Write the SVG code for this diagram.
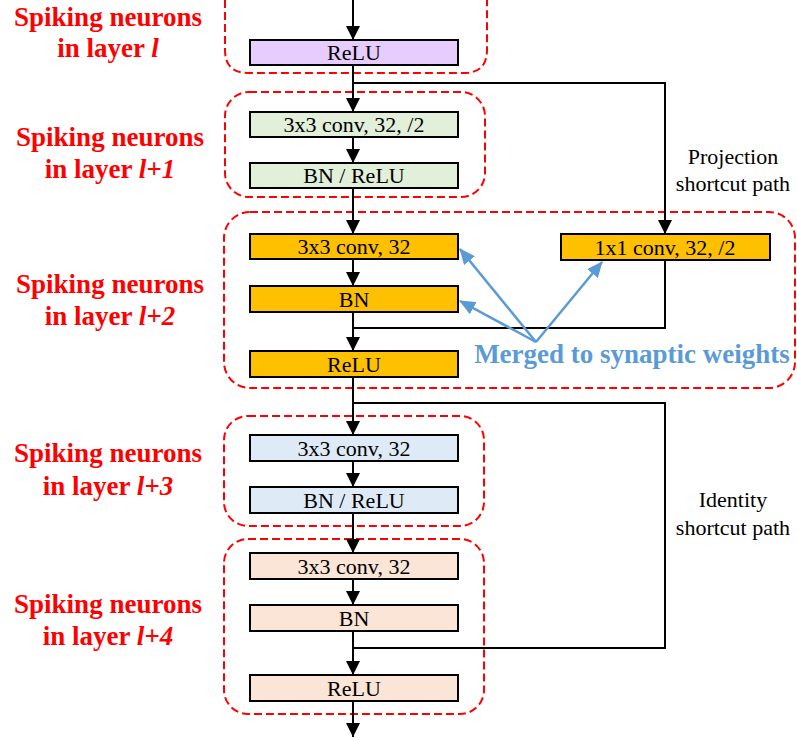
<svg xmlns="http://www.w3.org/2000/svg" width="797" height="738" viewBox="0 0 797 738">
<defs>
<marker id="ah" markerUnits="userSpaceOnUse" markerWidth="14" markerHeight="14" refX="14" refY="7" orient="auto">
<path d="M0,0 L14,7 L0,14 z" fill="#000"/>
</marker>
<marker id="bh" markerUnits="userSpaceOnUse" markerWidth="16" markerHeight="14" refX="15" refY="7" orient="auto">
<path d="M0,0 L16,7 L0,14 z" fill="#5B9BD5"/>
</marker>
<style>
text{font-family:'Liberation Serif','Times New Roman',Tinos,'DejaVu Serif',serif}
.box{stroke:#000;stroke-width:2}
.bt{font-size:22px;fill:#000;text-anchor:middle}
.lab{font-size:27px;font-weight:bold;fill:#FF0000;text-anchor:middle}
.side{font-size:22px;fill:#000;text-anchor:middle}
.mg{font-size:27px;font-weight:bold;fill:#5B9BD5;text-anchor:middle}
.reg{fill:none;stroke:#FF0000;stroke-width:2;stroke-dasharray:8,4}
.ln{fill:none;stroke:#000;stroke-width:2}
.ar{fill:none;stroke:#000;stroke-width:2;marker-end:url(#ah)}
.bl{fill:none;stroke:#5B9BD5;stroke-width:2.5;marker-end:url(#bh)}
</style>
</defs>
<g id="regions">
<path class="reg" d="M225,0 L225,50 Q225,73 248,73 L464,73 Q487,73 487,50 L487,0"/>
<rect class="reg" x="225" y="92" width="260" height="105" rx="24"/>
<rect class="reg" x="224" y="212" width="571" height="176" rx="26"/>
<rect class="reg" x="224" y="416" width="260" height="110" rx="24"/>
<rect class="reg" x="224" y="539" width="260" height="175" rx="24"/>
</g>
<g id="labels">
<text class="lab" x="108" y="26">Spiking neurons</text>
<text class="lab" x="108" y="57">in layer <tspan font-style="italic">l</tspan></text>
<text class="lab" x="110" y="146">Spiking neurons</text>
<text class="lab" x="110" y="178">in layer <tspan font-style="italic">l+1</tspan></text>
<text class="lab" x="110" y="293">Spiking neurons</text>
<text class="lab" x="110" y="325">in layer <tspan font-style="italic">l+2</tspan></text>
<text class="lab" x="108" y="462">Spiking neurons</text>
<text class="lab" x="108" y="495">in layer <tspan font-style="italic">l+3</tspan></text>
<text class="lab" x="108" y="613">Spiking neurons</text>
<text class="lab" x="108" y="645">in layer <tspan font-style="italic">l+4</tspan></text>
<text class="side" x="733" y="164">Projection</text>
<text class="side" x="733" y="191">shortcut path</text>
<text class="side" x="733" y="507">Identity</text>
<text class="side" x="733" y="535">shortcut path</text>
<text class="mg" x="632" y="363">Merged to synaptic weights</text>
</g>
<g id="connectors">
<line class="ar" x1="353" y1="0" x2="353" y2="40"/>
<line class="ar" x1="353" y1="65" x2="353" y2="112"/>
<polyline class="ar" points="353,83 665,83 665,234"/>
<line class="ar" x1="353" y1="137" x2="353" y2="163"/>
<line class="ar" x1="353" y1="188" x2="353" y2="234"/>
<line class="ar" x1="353" y1="259" x2="353" y2="286"/>
<line class="ar" x1="353" y1="312" x2="353" y2="351"/>
<polyline class="ln" points="665,260 665,328 353,328"/>
<line class="ar" x1="353" y1="377" x2="353" y2="435"/>
<polyline class="ln" points="353,403 665,403 665,648 353,648"/>
<line class="ar" x1="353" y1="461" x2="353" y2="487"/>
<line class="ar" x1="353" y1="513" x2="353" y2="553"/>
<line class="ar" x1="353" y1="579" x2="353" y2="605"/>
<line class="ar" x1="353" y1="631" x2="353" y2="675"/>
<line class="ar" x1="353" y1="701" x2="353" y2="737"/>
<line class="bl" x1="536" y1="342" x2="460" y2="249"/>
<line class="bl" x1="536" y1="342" x2="460" y2="301"/>
<line class="bl" x1="536" y1="342" x2="602" y2="262"/>
</g>
<g id="n_relu_l"><rect class="box" x="250" y="40" width="208" height="25" fill="#E6CCFF"/><text class="bt" x="354" y="60">ReLU</text></g>
<g id="n_conv_l1"><rect class="box" x="250" y="112" width="208" height="25" fill="#E2EFD9"/><text class="bt" x="354" y="132">3x3 conv, 32, /2</text></g>
<g id="n_bnrelu_l1"><rect class="box" x="250" y="163" width="208" height="25" fill="#E2EFD9"/><text class="bt" x="354" y="183">BN / ReLU</text></g>
<g id="n_conv_l2"><rect class="box" x="250" y="234" width="208" height="25" fill="#FFC000"/><text class="bt" x="354" y="254">3x3 conv, 32</text></g>
<g id="n_bn_l2"><rect class="box" x="250" y="286" width="208" height="26" fill="#FFC000"/><text class="bt" x="354" y="307">BN</text></g>
<g id="n_relu_l2"><rect class="box" x="250" y="351" width="208" height="26" fill="#FFC000"/><text class="bt" x="354" y="372">ReLU</text></g>
<g id="n_conv1x1"><rect class="box" x="561" y="234" width="209" height="26" fill="#FFC000"/><text class="bt" x="665" y="255">1x1 conv, 32, /2</text></g>
<g id="n_conv_l3"><rect class="box" x="250" y="435" width="208" height="26" fill="#DEEBF7"/><text class="bt" x="354" y="456">3x3 conv, 32</text></g>
<g id="n_bnrelu_l3"><rect class="box" x="250" y="487" width="208" height="26" fill="#DEEBF7"/><text class="bt" x="354" y="508">BN / ReLU</text></g>
<g id="n_conv_l4"><rect class="box" x="250" y="553" width="208" height="26" fill="#FBE5D6"/><text class="bt" x="354" y="574">3x3 conv, 32</text></g>
<g id="n_bn_l4"><rect class="box" x="250" y="605" width="208" height="26" fill="#FBE5D6"/><text class="bt" x="354" y="626">BN</text></g>
<g id="n_relu_l4"><rect class="box" x="250" y="675" width="208" height="26" fill="#FBE5D6"/><text class="bt" x="354" y="696">ReLU</text></g>
</svg>
